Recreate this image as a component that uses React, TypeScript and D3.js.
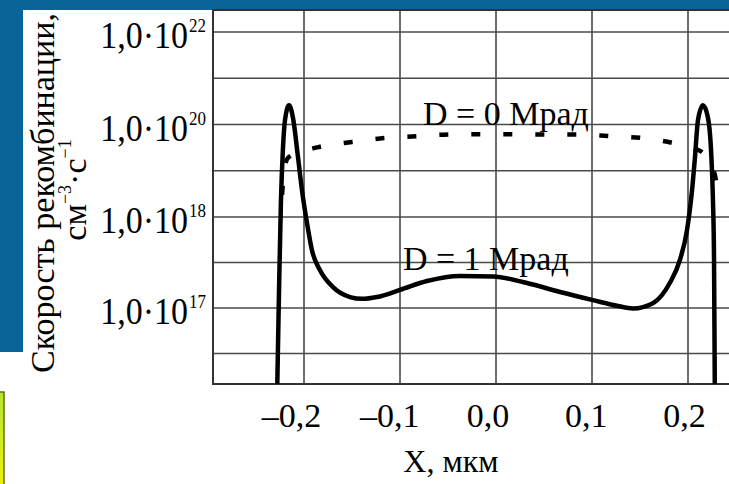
import React, { useEffect, useRef } from 'react';
import * as d3 from 'd3';

const width = 729;
const height = 484;

// x axis, мкм
const xTicks = [-0.2, -0.1, 0.0, 0.1, 0.2];
const xTickLabels = ['–0,2', '–0,1', '0,0', '0,1', '0,2'];

// uneven log axis of the original: gridlines and labelled levels
const yGrid = [1e22, 1e21, 1e20, 1e19, 1e18, Math.pow(10, 17.5), 1e17, Math.pow(10, 16.5)];
const yTicks = [1e22, 1e20, 1e18, 1e17];
const yTickExp = ['22', '20', '18', '17'];

// D = 1 Мрад
const d1X = [-0.2281, -0.226, -0.224, -0.222, -0.2198, -0.2156, -0.2115, -0.2063, -0.2021, -0.1969,
  -0.1917, -0.1833, -0.1698, -0.152, -0.1396, -0.124, -0.1, -0.0719, -0.0375, -0.003,
  0.0323, 0.0667, 0.101, 0.127, 0.1427, 0.1635, 0.181, 0.1917, 0.199, 0.2042,
  0.2073, 0.2104, 0.2156, 0.2208, 0.224, 0.226, 0.2271, 0.228];
const d1Y = [1e16, 1.6e17, 2.3e18, 2.8e19, 1.25e20, 2.6e20, 1.4e20, 2.0e19, 3.8e18, 8.6e17,
  4.3e17, 2.6e17, 1.7e17, 1.32e17, 1.26e17, 1.32e17, 1.58e17, 1.98e17, 2.25e17, 2.22e17,
  1.88e17, 1.5e17, 1.22e17, 1.05e17, 9.9e16, 1.13e17, 1.88e17, 3.4e17, 7.2e17, 3.8e18,
  2.0e19, 1.25e20, 2.6e20, 1.4e20, 2.8e19, 2.3e18, 3.6e17, 1e16];

// D = 0 Мрад
const d0X = [-0.2229, -0.2208, -0.2167, -0.2042, -0.1833, -0.15, -0.1156, -0.0813, -0.048, 0,
  0.046, 0.0875, 0.119, 0.152, 0.184, 0.207, 0.2167, 0.224, 0.229, 0.2313];
const d0Y = [3.0e18, 9.4e18, 1.9e19, 2.5e19, 3.3e19, 4.2e19, 5.1e19, 5.6e19, 6.1e19, 6.2e19,
  6.1e19, 6.1e19, 5.6e19, 5.1e19, 4.0e19, 3.0e19, 2.3e19, 1.33e19, 6.3e18, 2.3e18];

const font = '"Liberation Serif", "Times New Roman", serif';

function App() {
  const ref = useRef<SVGSVGElement>(null);

  useEffect(() => {
    const svg = d3.select(ref.current);
    svg.selectAll('*').remove();

    const left = 213, top = 10, bottom = 384;

    const x = d3.scaleLinear().domain([-0.2, 0.2]).range([304, 688]);
    const y = d3.scaleLog()
      .domain([1e16, 1e17, 1e18, 1e22])
      .range([399, 308, 217, 32]);

    // page background bits
    svg.append('rect').attr('width', width).attr('height', height).attr('fill', '#fff');
    svg.append('rect').attr('width', width).attr('height', top).attr('fill', '#0b6498');
    svg.append('rect').attr('width', 23).attr('height', 352).attr('fill', '#0b6498');

    const defs = svg.append('defs');
    const grad = defs.append('linearGradient').attr('id', 'yel').attr('x1', 0).attr('x2', 0).attr('y1', 0).attr('y2', 1);
    grad.append('stop').attr('offset', 0).attr('stop-color', '#b4e62c');
    grad.append('stop').attr('offset', 1).attr('stop-color', '#fbf500');
    svg.append('rect').attr('x', -20).attr('y', 392).attr('width', 24).attr('height', 120)
      .attr('fill', 'url(#yel)').attr('stroke', '#6a6a10').attr('stroke-width', 1.5);

    defs.append('clipPath').attr('id', 'plot')
      .append('rect').attr('x', left).attr('y', top).attr('width', width - left).attr('height', bottom - top);

    // grid
    const grid = svg.append('g').attr('stroke', '#4a4a4a').attr('stroke-width', 1.6);
    grid.selectAll('line.h').data(yGrid).enter().append('line')
      .attr('x1', left).attr('x2', width)
      .attr('y1', d => y(d)).attr('y2', d => y(d));
    grid.selectAll('line.v').data(xTicks).enter().append('line')
      .attr('x1', d => x(d)).attr('x2', d => x(d))
      .attr('y1', top).attr('y2', bottom);

    // frame
    svg.append('path')
      .attr('d', `M${width},${top}H${left}V${bottom}H${width}`)
      .attr('fill', 'none').attr('stroke', '#333').attr('stroke-width', 2);

    const line = d3.line<number>()
      .x(i => x(i[0]))
      .y(i => y(i[1]))
      .curve(d3.curveMonotoneX);

    const plot = svg.append('g').attr('clip-path', 'url(#plot)');

    plot.append('path')
      .datum(d0X.map((v, i) => [v, d0Y[i]]))
      .attr('d', line as any)
      .attr('fill', 'none').attr('stroke', '#000').attr('stroke-width', 4.5)
      .attr('stroke-dasharray', '9 23');

    plot.append('path')
      .datum(d1X.map((v, i) => [v, d1Y[i]]))
      .attr('d', line as any)
      .attr('fill', 'none').attr('stroke', '#000').attr('stroke-width', 4.5);

    // curve labels
    svg.append('text').attr('x', x(-0.076)).attr('y', y(1e20))
      .attr('font-family', font).attr('font-size', 34).text('D = 0 Мрад');
    svg.append('text').attr('x', x(-0.097)).attr('y', y(2.6e17))
      .attr('font-family', font).attr('font-size', 34).text('D = 1 Мрад');

    // x tick labels
    svg.selectAll('text.xt').data(xTicks).enter().append('text')
      .attr('x', (d) => x(d) - 8 + 22 * d).attr('y', 427)
      .attr('text-anchor', 'middle')
      .attr('font-family', font).attr('font-size', 34)
      .text((d, i) => xTickLabels[i]);

    svg.append('text').attr('x', x(-0.047)).attr('y', 472)
      .attr('text-anchor', 'middle')
      .attr('font-family', font).attr('font-size', 32).text('X, мкм');

    // y tick labels, a little taller as in the scan
    yTicks.forEach((v, i) => {
      const g = svg.append('g').attr('transform', `translate(0,${y(v) + 16}) scale(1,1.12)`);
      g.append('text').attr('x', 188).attr('y', 0)
        .attr('text-anchor', 'end')
        .attr('font-family', font).attr('font-size', 34).text('1,0·10');
      g.append('text').attr('x', 189).attr('y', -14)
        .attr('font-family', font).attr('font-size', 17).text(yTickExp[i]);
    });

    // y axis title
    svg.append('text')
      .attr('transform', 'translate(54,193) rotate(-90)')
      .attr('text-anchor', 'middle')
      .attr('font-family', font).attr('font-size', 34)
      .text('Скорость рекомбинации,');
    const unit = svg.append('text')
      .attr('transform', 'translate(86,190) rotate(-90)')
      .attr('text-anchor', 'middle')
      .attr('font-family', font).attr('font-size', 34);
    unit.append('tspan').text('см');
    unit.append('tspan').attr('dy', -15).attr('font-size', 18).text('−3');
    unit.append('tspan').attr('dy', 15).text('·с');
    unit.append('tspan').attr('dy', -15).attr('font-size', 18).text('−1');
  }, []);

  return (
    <svg ref={ref} width={width} height={height}
      style={{ position: 'absolute', left: 0, top: 0, display: 'block' }} />
  );
}

export default App;
